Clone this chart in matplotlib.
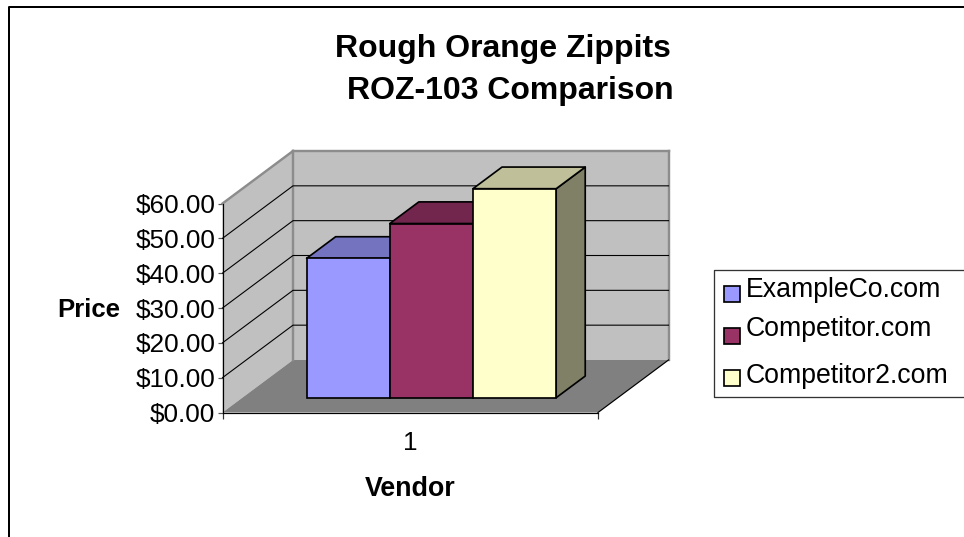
import matplotlib
matplotlib.use('Agg')
import matplotlib.pyplot as plt
import matplotlib.patches as patches
from matplotlib.lines import Line2D
from matplotlib.ticker import FuncFormatter

vendors = ['ExampleCo.com', 'Competitor.com', 'Competitor2.com']
prices = [40, 50, 60]
y_ticks = [0, 10, 20, 30, 40, 50, 60]
category_labels = ['1']

W, H = 964, 537
plt.rcParams['font.family'] = ['Liberation Sans', 'DejaVu Sans']

fig = plt.figure(figsize=(W / 100, H / 100), dpi=100, facecolor='white')

# front rectangle of the 3d box, in pixels
left, right, top, bottom = 222.5, 598, 203.5, 412.5
ax = fig.add_axes([left / W, 1 - bottom / H, (right - left) / W, (bottom - top) / H])
ax.set_xlim(0, 1)
ax.set_ylim(0, 60)
ax.patch.set_visible(False)

# how far a full step into the depth moves a point, in data units
dx = 70.5 / (right - left)
dy = 52.5 / (bottom - top) * 60

def px(n):
    return n * 0.72

def shade(c, f):
    return tuple(v * f for v in matplotlib.colors.to_rgb(c))

def proj(x, v, d):
    return (x + d * dx, v + d * dy)

def face(pts, **kw):
    ax.add_patch(patches.Polygon(pts, closed=True, clip_on=False, **kw))

# walls and floor
wall = '#c0c0c0'
face([proj(0, 0, 0), proj(0, 0, 1), proj(0, 60, 1), proj(0, 60, 0)], fc=wall, ec='none', zorder=1)
face([proj(0, 0, 1), proj(1, 0, 1), proj(1, 60, 1), proj(0, 60, 1)], fc=wall, ec='none', zorder=1)
face([proj(0, 0, 0), proj(1, 0, 0), proj(1, 0, 1), proj(0, 0, 1)], fc='#808080', ec='none', zorder=2)

# grey edges of the walls
for a, b in [(proj(0, 0, 1), proj(0, 60, 1)), (proj(0, 60, 1), proj(1, 60, 1)),
             (proj(1, 60, 1), proj(1, 0, 1)), (proj(0, 60, 0), proj(0, 60, 1))]:
    ax.plot([a[0], b[0]], [a[1], b[1]], color='#8c8c8c', lw=px(2.4), clip_on=False, zorder=2)

# gridlines
for t in y_ticks[1:-1]:
    a, b, c = proj(0, t, 0), proj(0, t, 1), proj(1, t, 1)
    ax.plot([a[0], b[0], c[0]], [a[1], b[1], c[1]], color='black', lw=px(1.1),
            clip_on=False, zorder=2)
a, b = proj(1, 0, 0), proj(1, 0, 1)
ax.plot([a[0], b[0]], [a[1], b[1]], color='black', lw=px(1.2), clip_on=False, zorder=3)

# bars
colors = ['#9999ff', '#993366', '#ffffcc']
bar_w = 83.2 / (right - left)
bar_start = 64.2 / (right - left)
d0, d1 = 0.282, 0.694
for i, (v, c) in enumerate(zip(prices, colors)):
    x0 = bar_start + i * bar_w
    x1 = x0 + bar_w
    z = 5 + i
    face([proj(x1, 0, d0), proj(x1, 0, d1), proj(x1, v, d1), proj(x1, v, d0)],
         fc=shade(c, 0.5), ec='black', lw=px(1.7), joinstyle='round', zorder=z)
    face([proj(x0, v, d0), proj(x1, v, d0), proj(x1, v, d1), proj(x0, v, d1)],
         fc=shade(c, 0.75), ec='black', lw=px(1.7), joinstyle='round', zorder=z)
    ax.bar(proj(x0, 0, d0)[0], v, bar_w, bottom=proj(x0, 0, d0)[1], align='edge',
           color=c, edgecolor='black', lw=px(1.7), clip_on=False, zorder=z)

# axes
for s in ['top', 'right']:
    ax.spines[s].set_visible(False)
for s in ['left', 'bottom']:
    ax.spines[s].set_linewidth(px(1.2))
    ax.spines[s].set_zorder(4)
ax.set_yticks(y_ticks)
ax.yaxis.set_major_formatter(FuncFormatter(lambda v, p: '$%.2f' % v))
ax.tick_params(axis='y', length=px(5), width=px(1.2), color='#555555', labelsize=18.8, pad=1.5)
ax.set_xticks([0.5], category_labels)
ax.set_xticks([0, 1], minor=True)
ax.tick_params(axis='x', which='major', length=0, labelsize=18.8, pad=13.5)
ax.tick_params(axis='x', which='minor', length=px(6), width=px(1.2), color='#333333')

# titles
fig.text(503 / W, 1 - 49.5 / H, 'Rough Orange Zippits', ha='center', va='center',
         fontsize=23, fontweight='bold')
fig.text(510 / W, 1 - 91.5 / H, 'ROZ-103 Comparison', ha='center', va='center',
         fontsize=23, fontweight='bold')
fig.text(410.5 / W, 1 - 489 / H, 'Vendor', ha='center', va='center', fontsize=19.3, fontweight='bold')
fig.text(89 / W, 1 - 310 / H, 'Price', ha='center', va='center', fontsize=18.5, fontweight='bold')

# outer frame, only left and top show
fig.add_artist(Line2D([8.5 / W, 8.5 / W, 1], [0, 1 - 6.5 / H, 1 - 6.5 / H], color='black', lw=px(2)))

# legend box
fig.add_artist(Line2D([1, 713.5 / W, 713.5 / W, 1],
                      [1 - 270 / H, 1 - 270 / H, 1 - 397 / H, 1 - 397 / H], color='#333333', lw=px(1.3)))
swatch_y = [294, 336, 378]
text_y = [290, 329, 376]
for name, c, sy, ty in zip(vendors, colors, swatch_y, text_y):
    fig.add_artist(patches.Rectangle((723.5 / W, 1 - (sy + 8) / H), 16 / W, 16 / H, fc=c, ec='black',
                                     lw=px(1.7), transform=fig.transFigure))
    fig.text(746 / W, 1 - ty / H, name, ha='left', va='center', fontsize=19.2)

fig.savefig('out.png', dpi=100)
